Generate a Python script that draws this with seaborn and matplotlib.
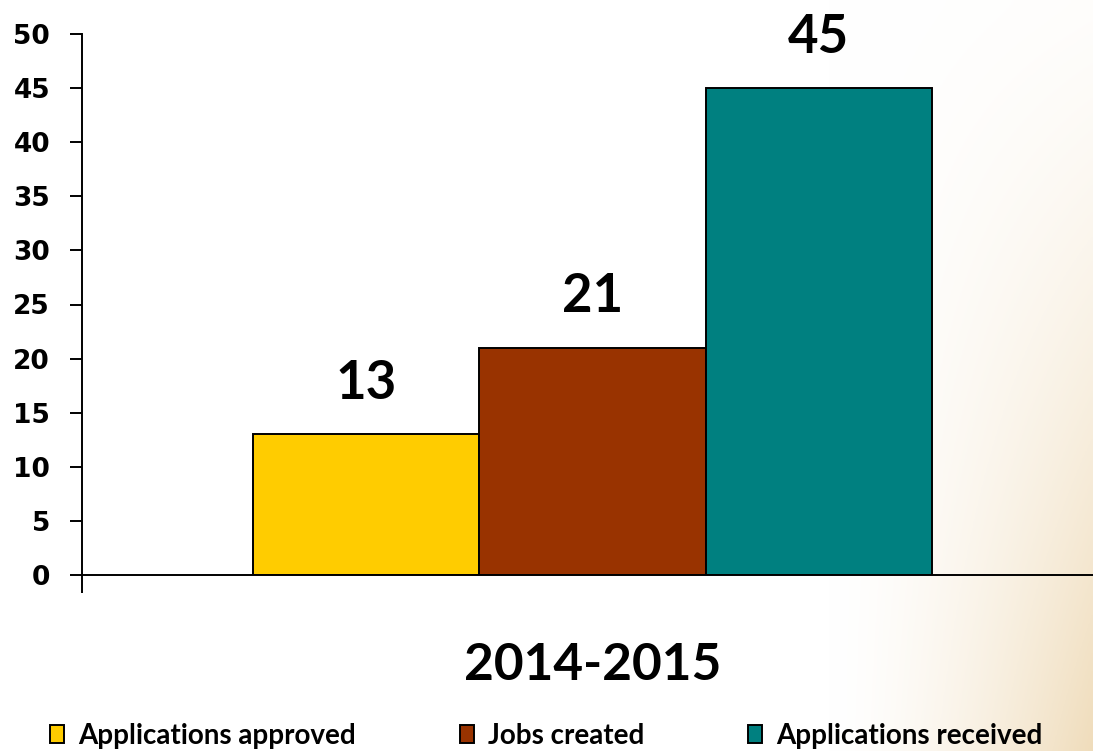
import numpy as np
import pandas as pd
import matplotlib
matplotlib.use("Agg")
import matplotlib.pyplot as plt
import seaborn as sns

# Data
period = ["2014-2015"]
series = ["Applications approved", "Jobs created", "Applications received"]
values = [13, 21, 45]
colors = ["#FFCC00", "#993300", "#008080"]
yticks = [0, 5, 10, 15, 20, 25, 30, 35, 40, 45, 50]

df = pd.DataFrame({
    "period": period * len(series),
    "series": series,
    "value": values,
})

sns.set_theme(style="white")
plt.rcParams["font.family"] = ["Lato", "DejaVu Sans"]
plt.rcParams["text.color"] = "black"
plt.rcParams["xtick.color"] = "black"
plt.rcParams["ytick.color"] = "black"

W, H = 1093, 751
fig = plt.figure(figsize=(W / 100, H / 100), dpi=100)
fig.patch.set_facecolor("white")

# Warm gradient backdrop fading in toward the lower-right corner
bg = fig.add_axes([0, 0, 1, 1], zorder=-10)
xs = np.linspace(0, 1, 400)
ys = np.linspace(0, 1, 300)
X, Y = np.meshgrid(xs, ys)
t = np.clip((X - 0.76) / 0.24, 0, 1) ** 1.5 * (0.05 + 0.95 * Y ** 1.3)
beige = np.array([0.94, 0.865, 0.735])
img = (1 - t[..., None]) * 1.0 + t[..., None] * beige
bg.imshow(img, aspect="auto", extent=[0, 1, 1, 0])
bg.axis("off")

ax = fig.add_axes([82 / W, (H - 575) / H, (W - 82) / W, (575 - 34) / H])
ax.set_facecolor("none")

sns.barplot(
    data=df, x="period", y="value", hue="series",
    hue_order=series, palette=colors, width=0.665,
    edgecolor="black", linewidth=1.4, saturation=1, ax=ax,
)

for cont in ax.containers:
    ax.bar_label(cont, fontsize=38, fontweight="bold", padding=19,
                 color="black", family=["Lato", "DejaVu Sans"])

ax.set_ylim(0, 50)
ax.set_xlim(-0.5, -0.5 + (W - 82) / 1021)
ax.set_yticks(yticks)
ax.set_yticklabels([str(v) for v in yticks], fontsize=19,
                   fontweight="bold", family="DejaVu Sans")
ax.set_xticks([-0.5])
ax.set_xticklabels([""])
ax.tick_params(axis="y", direction="out", length=9, width=1.4, pad=14,
               left=True, colors="black")
ax.tick_params(axis="x", direction="out", length=13, width=1.4,
               bottom=True, colors="black")
ax.set_ylabel("")
ax.set_xlabel("")

for side in ["top", "right"]:
    ax.spines[side].set_visible(False)
for side in ["left", "bottom"]:
    ax.spines[side].set_color("black")
    ax.spines[side].set_linewidth(1.4)

# Category label under the axis
fig.text((82 + 1021 / 2) / W, 1 - 665 / H, period[0],
         ha="center", va="center", fontsize=37, fontweight="bold",
         color="black")

sns.move_legend(
    ax, "center", bbox_to_anchor=(0.5, 1 - 736 / H),
    bbox_transform=fig.transFigure, ncol=3, frameon=False, title=None,
    fontsize=20, handlelength=0.5, handleheight=0.6, handletextpad=0.5,
    columnspacing=3.75,
)
for txt in ax.get_legend().get_texts():
    txt.set_fontweight("bold")
    txt.set_color("black")

fig.savefig("out.png", dpi=100)
